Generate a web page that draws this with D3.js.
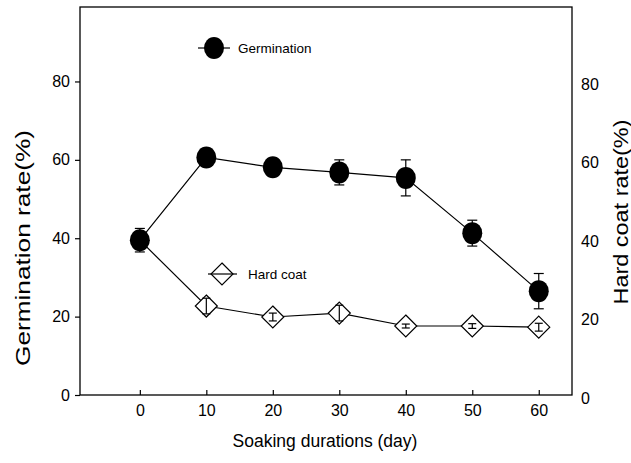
<!DOCTYPE html>
<html><head><meta charset="utf-8">
<script src="https://cdn.jsdelivr.net/npm/d3@7"></script>
<style>body{margin:0;background:#fff}svg{display:block}text{font-family:"Liberation Sans",Arial,sans-serif;fill:#000}</style>
</head><body><div id="chart"></div>
<script>
const days = [0, 10, 20, 30, 40, 50, 60];
const germination = [39.5, 60.6, 58.1, 56.8, 55.4, 41.3, 26.5];
const germinationErr = [3.0, 1.6, 2.0, 3.2, 4.6, 3.3, 4.5];
const hardCoat = [39.5, 22.7, 19.9, 20.9, 17.6, 17.6, 17.3];
const hardCoatErr = [0, 2.0, 1.0, 2.0, 0.5, 0.6, 1.0];
const xTicks = [0, 10, 20, 30, 40, 50, 60];
const yTicks = [0, 20, 40, 60, 80];

const W = 631, H = 463;
const svg = d3.select("#chart").append("svg").attr("width", W).attr("height", H);
const x = d3.scaleLinear().domain([-9, 65]).range([80, 572]);
const y = d3.scaleLinear().domain([0, 99]).range([395, 7]);
const yR = d3.scaleLinear().domain([0, 99]).range([398, 10]);

// frame
svg.append("rect").attr("x", 80).attr("y", 7).attr("width", 492).attr("height", 388)
  .attr("fill", "none").attr("stroke", "#000").attr("stroke-width", 1.3);

// left axis
const gl = svg.append("g").attr("transform", "translate(80,0)")
  .call(d3.axisLeft(y).tickValues(yTicks).tickSize(5).tickPadding(5).tickFormat(d3.format("d")));
gl.select(".domain").remove();
gl.selectAll("line").attr("stroke-width", 1.2);
gl.selectAll("text").style("font-size", "16px").style("font-family", "Liberation Sans, Arial");

// right axis (labels only)
const gr = svg.append("g").attr("transform", "translate(572,0)")
  .call(d3.axisRight(yR).tickValues(yTicks).tickSize(0).tickPadding(9).tickFormat(d3.format("d")));
gr.select(".domain").remove();
gr.selectAll("text").style("font-size", "16px").style("font-family", "Liberation Sans, Arial");

// bottom axis (inward ticks)
const gb = svg.append("g").attr("transform", "translate(0,395)")
  .call(d3.axisBottom(x).tickValues(xTicks).tickSizeInner(-5).tickSizeOuter(0).tickPadding(10).tickFormat(d3.format("d")));
gb.select(".domain").remove();
gb.selectAll("line").attr("stroke-width", 1.2);
gb.selectAll("text").style("font-size", "16px").style("font-family", "Liberation Sans, Arial");

// axis titles
svg.append("text").attr("x", 325).attr("y", 447).attr("text-anchor", "middle")
  .style("font-size", "17.5px").text("Soaking durations (day)");
svg.append("text").attr("transform", "translate(30,248) rotate(-90)").attr("text-anchor", "middle")
  .attr("textLength", 236).attr("lengthAdjust", "spacingAndGlyphs")
  .style("font-size", "20px").text("Germination rate(%)");
svg.append("text").attr("transform", "translate(628,212) rotate(-90)").attr("text-anchor", "middle")
  .attr("textLength", 185).attr("lengthAdjust", "spacingAndGlyphs")
  .style("font-size", "20px").text("Hard coat rate(%)");

const line = d3.line().x(d => x(d[0])).y(d => y(d[1]));
const gData = days.map((d, i) => [d, germination[i], germinationErr[i]]);
const hData = days.map((d, i) => [d, hardCoat[i], hardCoatErr[i]]);

svg.append("path").datum(hData).attr("d", line).attr("fill", "none").attr("stroke", "#000").attr("stroke-width", 1.2);
svg.append("path").datum(gData).attr("d", line).attr("fill", "none").attr("stroke", "#000").attr("stroke-width", 1.2);

const diamond = (cx, cy, r) => `M${cx},${cy - r}L${cx + r},${cy}L${cx},${cy + r}L${cx - r},${cy}Z`;

function errBars(data, cap) {
  const g = svg.append("g").attr("stroke", "#000").attr("stroke-width", 1.2);
  data.filter(d => d[2] > 0).forEach(d => {
    const cx = x(d[0]), y1 = y(d[1] + d[2]), y2 = y(d[1] - d[2]);
    g.append("line").attr("x1", cx).attr("x2", cx).attr("y1", y1).attr("y2", y2);
    g.append("line").attr("x1", cx - cap).attr("x2", cx + cap).attr("y1", y1).attr("y2", y1);
    g.append("line").attr("x1", cx - cap).attr("x2", cx + cap).attr("y1", y2).attr("y2", y2);
  });
}

// hard coat markers (day 0 hidden under germination marker)
svg.append("g").selectAll("path").data(hData.slice(1)).join("path")
  .attr("d", d => diamond(x(d[0]), y(d[1]), 11))
  .attr("fill", "#fff").attr("stroke", "#000").attr("stroke-width", 1.2);
errBars(hData.slice(1), 4);

// germination markers
errBars(gData, 5);
svg.append("g").selectAll("ellipse").data(gData).join("ellipse")
  .attr("cx", d => x(d[0])).attr("cy", d => y(d[1])).attr("rx", 10).attr("ry", 11).attr("fill", "#000");

// legend
svg.append("line").attr("x1", 198).attr("x2", 230).attr("y1", 48).attr("y2", 48).attr("stroke", "#000").attr("stroke-width", 1.2);
svg.append("ellipse").attr("cx", 214).attr("cy", 48).attr("rx", 10).attr("ry", 11).attr("fill", "#000");
svg.append("text").attr("x", 238).attr("y", 53).style("font-size", "13.5px").text("Germination");

svg.append("line").attr("x1", 208).attr("x2", 237).attr("y1", 274).attr("y2", 274).attr("stroke", "#000").attr("stroke-width", 1.2);
svg.append("path").attr("d", diamond(222, 274, 11)).attr("fill", "#fff").attr("stroke", "#000").attr("stroke-width", 1.2);
svg.append("line").attr("x1", 211).attr("x2", 233).attr("y1", 274).attr("y2", 274).attr("stroke", "#000").attr("stroke-width", 1.2);
svg.append("text").attr("x", 248).attr("y", 279).style("font-size", "13.5px").text("Hard coat");
</script></body></html>
